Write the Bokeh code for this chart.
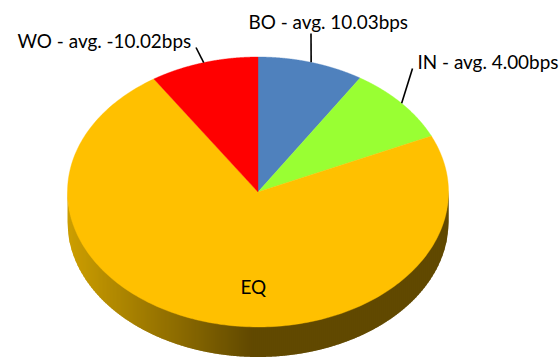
import numpy as np
from bokeh.core.properties import value
from bokeh.embed import file_html
from bokeh.plotting import figure
from bokeh.resources import INLINE

# Portfolio shares by bucket, clockwise from twelve o'clock
categories = ["BO", "IN", "EQ", "WO"]
shares = [9.0, 9.2, 72.6, 9.2]
colors = ["#4F81BD", "#99FF33", "#FFC000", "#FF0000"]
labels = ["BO - avg. 10.03bps", "IN - avg. 4.00bps", "EQ", "WO - avg. -10.02bps"]

# Tilted pie geometry, in page pixels
CX, CY, RX, RY, DEPTH = 257.5, 191.5, 190.5, 135.0, 30.0
WALL_LIGHT = np.array([0xCC, 0x9E, 0x00])
WALL_DARK = np.array([0x61, 0x49, 0x00])

p = figure(width=560, height=357, x_range=(0, 560), y_range=(357, 0),
           output_backend="svg", toolbar_location=None, min_border=0,
           outline_line_color=None, background_fill_color="white")
p.axis.visible = False
p.grid.visible = False

# Side wall: narrow vertical strips shaded from left to centre
edges = np.arange(CX - RX, CX + RX + 1.0, 2.0)
xs, ys, wall_colors = [], [], []
for x0 in edges:
    x1 = min(x0 + 3.0, CX + RX)
    sx = np.linspace(x0, x1, 5)
    top = CY + RY * np.sqrt(np.clip(1 - ((sx - CX) / RX) ** 2, 0, 1))
    xs.append(np.r_[sx, sx[::-1]])
    ys.append(np.r_[top - 2, (top + DEPTH)[::-1]])
    t = min(max((x0 - (CX - RX)) / 183.0, 0.0), 1.0)
    c = WALL_LIGHT + (WALL_DARK - WALL_LIGHT) * t
    wall_colors.append("#%02X%02X%02X" % tuple(int(round(v)) for v in c))
p.patches(xs, ys, fill_color=wall_colors, line_color=None)

# Top face slices
bounds = np.r_[0, np.cumsum(shares)] / np.sum(shares) * 2 * np.pi
for a0, a1, color in zip(bounds[:-1], bounds[1:], colors):
    th = np.linspace(a0, a1, 240)
    px = np.r_[CX, CX + RX * np.sin(th)]
    py = np.r_[CY, CY - RY * np.cos(th)]
    p.patch(px, py, fill_color=color, line_color=color, line_width=0.4)

# Leader lines rise from each labelled slice's rim midpoint
mids = (bounds[:-1] + bounds[1:]) / 2
leader_ends = {"BO": (310.5, 33.0), "IN": (412.0, 68.0), "WO": (195.5, 47.0)}
for name, mid in zip(categories, mids):
    if name in leader_ends:
        ex, ey = leader_ends[name]
        p.line([CX + RX * np.sin(mid), ex], [CY - RY * np.cos(mid), ey],
               line_color="black", line_width=1.6)

# Slice labels
label_x = [248, 417, 240, 17]
label_y = [20.5, 61, 286, 39.5]
p.text(label_x, label_y, text=labels, text_font=value("Lato"),
       text_font_size="18.9px", text_color="black",
       text_align="left", text_baseline="middle")

open("out.html", "w").write(file_html(p, INLINE))
